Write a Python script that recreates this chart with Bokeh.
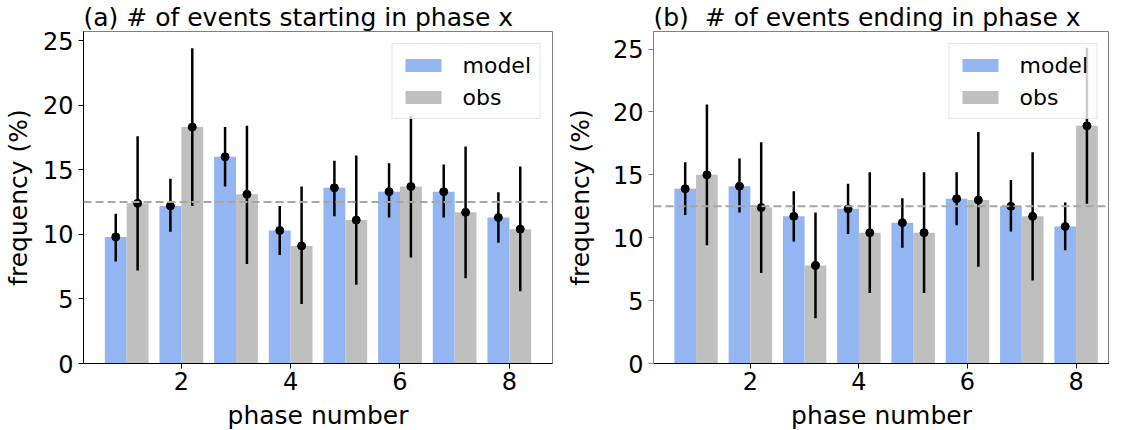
from bokeh.plotting import figure
from bokeh.layouts import row
from bokeh.models import Span, Range1d, FixedTicker
from bokeh.embed import file_html
from bokeh.resources import INLINE

# ---------------- data ----------------
phases = [1, 2, 3, 4, 5, 6, 7, 8]
x_ticks = [2, 4, 6, 8]
y_ticks = [0, 5, 10, 15, 20, 25]
uniform = 12.5  # 100 % / 8 phases

start_model = [9.8, 12.2, 16.0, 10.3, 13.6, 13.3, 13.3, 11.3]
start_model_lo = [7.9, 10.2, 13.7, 8.4, 11.4, 11.3, 11.3, 9.35]
start_model_hi = [11.6, 14.3, 18.3, 12.2, 15.7, 15.5, 15.4, 13.25]
start_obs = [12.4, 18.3, 13.1, 9.1, 11.1, 13.7, 11.7, 10.4]
start_obs_lo = [7.2, 12.2, 7.7, 4.6, 6.1, 8.2, 6.6, 5.6]
start_obs_hi = [17.6, 24.4, 18.4, 13.7, 16.1, 19.2, 16.8, 15.25]

end_model = [13.9, 14.1, 11.7, 12.3, 11.2, 13.1, 12.5, 10.9]
end_model_lo = [11.8, 12.0, 9.7, 10.3, 9.2, 11.0, 10.5, 9.0]
end_model_hi = [16.0, 16.3, 13.7, 14.3, 13.15, 15.2, 14.6, 12.8]
end_obs = [15.0, 12.4, 7.8, 10.4, 10.4, 13.0, 11.7, 18.9]
end_obs_lo = [9.4, 7.2, 3.6, 5.6, 5.6, 7.7, 6.6, 12.7]
end_obs_hi = [20.6, 17.6, 12.0, 15.2, 15.2, 18.4, 16.8, 25.1]

FONT = "DejaVu Sans"
MODEL_COLOR = "#93b5f2"
OBS_COLOR = "#bfbfbf"
H = 432


def make_panel(title, model, mlo, mhi, obs, olo, ohi, xr, yr, width,
               mbl, mbr, ylab_standoff, left_color):
    p = figure(width=width, height=H, x_range=Range1d(*xr), y_range=Range1d(*yr),
               output_backend="svg", toolbar_location=None,
               min_border_left=mbl, min_border_right=mbr,
               min_border_top=0, min_border_bottom=0)
    xm = [v - 0.2 for v in phases]
    xo = [v + 0.2 for v in phases]
    p.vbar(x=xm, top=model, width=0.4, fill_color=MODEL_COLOR, line_color=None,
           legend_label="model")
    p.vbar(x=xo, top=obs, width=0.4, fill_color=OBS_COLOR, line_color=None,
           legend_label="obs")
    p.add_layout(Span(location=uniform, dimension="width", line_color="#a6a6a6",
                      line_width=2, line_dash="8 4"))
    p.segment(x0=xm, y0=mlo, x1=xm, y1=mhi, line_color="black", line_width=2.5)
    p.segment(x0=xo, y0=olo, x1=xo, y1=ohi, line_color="black", line_width=2.5)
    p.scatter(x=xm, y=model, size=8, color="black")
    p.scatter(x=xo, y=obs, size=8, color="black")

    p.title.text = title
    p.title.align = "left"
    p.title.text_font = FONT
    p.title.text_font_size = "25px"
    p.title.text_font_style = "normal"
    p.title.text_color = "black"
    p.title.standoff = 0
    p.title.text_line_height = 0.8

    p.xgrid.visible = False
    p.ygrid.visible = False
    p.outline_line_color = "#808080"
    p.outline_line_width = 1

    p.xaxis.ticker = FixedTicker(ticks=x_ticks)
    p.yaxis.ticker = FixedTicker(ticks=y_ticks)
    p.xaxis.axis_label = "phase number"
    p.yaxis.axis_label = "frequency (%)"
    for ax in (p.xaxis[0], p.yaxis[0]):
        ax.axis_label_text_font = FONT
        ax.axis_label_text_font_size = "25px"
        ax.axis_label_text_font_style = "normal"
        ax.axis_label_text_color = "black"
        ax.axis_label_text_line_height = 1.0
        ax.major_label_text_font = FONT
        ax.major_label_text_font_size = "24px"
        ax.major_label_text_color = "black"
        ax.major_label_text_line_height = 1.0
        ax.major_tick_out = 5
        ax.major_tick_in = 0
        ax.minor_tick_out = 0
        ax.minor_tick_in = 0
        ax.axis_line_width = 1
    p.xaxis.axis_line_color = "black"
    p.xaxis.major_tick_line_color = "black"
    p.xaxis.major_label_standoff = 3
    p.xaxis.axis_label_standoff = 8
    p.yaxis.axis_line_color = left_color
    p.yaxis.major_tick_line_color = left_color
    p.yaxis.major_label_standoff = 5
    p.yaxis.axis_label_standoff = ylab_standoff

    lg = p.legend[0]
    lg.location = "top_right"
    lg.margin = 12
    lg.label_text_font = FONT
    lg.label_text_font_size = "22px"
    lg.label_text_color = "black"
    lg.glyph_width = 45
    lg.glyph_height = 16
    lg.label_standoff = 17
    lg.label_height = 26
    lg.padding = 8
    lg.spacing = 6
    lg.border_line_color = "#cccccc"
    lg.border_line_width = 1
    lg.background_fill_alpha = 0.8
    return p


p1 = make_panel("(a) # of events starting in phase x",
                start_model, start_model_lo, start_model_hi,
                start_obs, start_obs_lo, start_obs_hi,
                (0.21, 8.79), (0, 25.7), 562, 74, 10, 7, "black")
p2 = make_panel("(b)\u00a0 # of events ending in phase x",
                end_model, end_model_lo, end_model_hi,
                end_obs, end_obs_lo, end_obs_hi,
                (0.216, 8.616), (0, 26.4), 547, 80, 0, 15, "#808080")

layout = row(p1, p2)
open("out.html", "w").write(file_html(layout, INLINE))
